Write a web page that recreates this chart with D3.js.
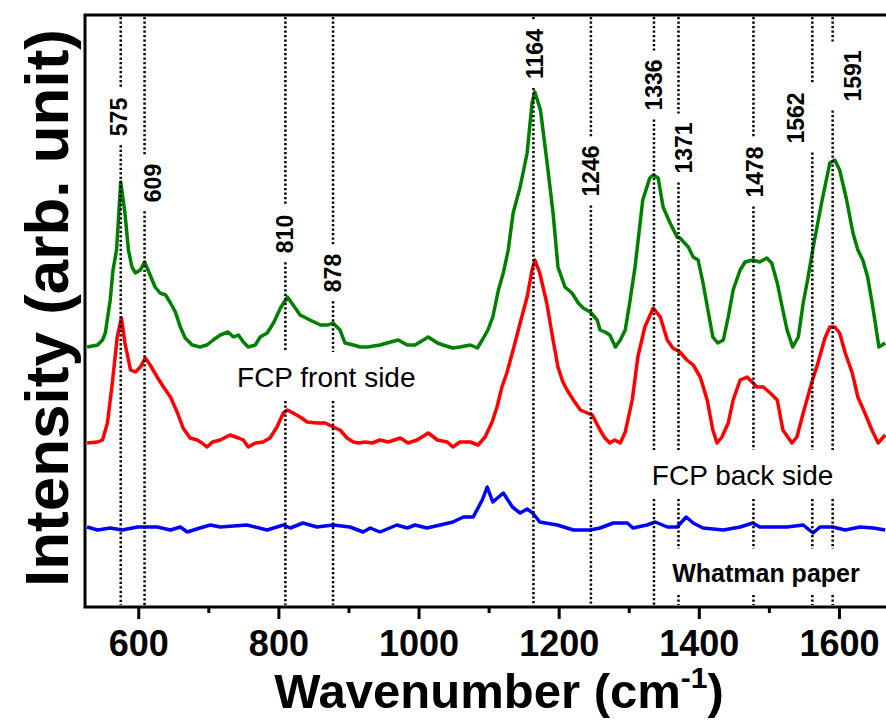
<!DOCTYPE html>
<html>
<head>
<meta charset="utf-8">
<style type="text/css">
body { margin: 0; background: #fff; }
svg { display: block; font-family: Arial, "Liberation Sans", sans-serif; }
.spectrum { fill: none; stroke-width: 3.5; stroke-linejoin: round; }
.peakline { stroke: #000; stroke-width: 2.5; stroke-dasharray: 2.2 2.3; }
.peaklabel { font-size: 23px; font-weight: bold; }
.curvelabel { font-size: 28px; }
</style>
<script src="https://d3js.org/d3.v7.min.js"></script>
</head>
<body>
<script type="text/javascript">
// spectra (wavenumber in cm-1, intensity in arbitrary units)
var greenWn = [527,542,549,553,560,564,569,575,581,586,591,596,603,609,614,624,631,639,646,653,660,667,677,688,698,707,717,728,736,743,750,757,767,774,784,793,803,813,821,831,845,860,871,878,888,895,907,917,927,945,955,971,984,995,1014,1027,1035,1049,1059,1074,1084,1091,1099,1106,1114,1121,1128,1135,1145,1155,1162,1166,1174,1183,1192,1199,1209,1219,1228,1235,1245,1255,1259,1266,1273,1281,1288,1295,1302,1309,1320,1330,1335,1342,1349,1359,1369,1373,1385,1392,1399,1406,1413,1420,1427,1435,1442,1449,1459,1466,1477,1487,1497,1504,1512,1519,1526,1534,1542,1549,1556,1563,1576,1587,1594,1601,1611,1620,1627,1634,1641,1649,1657,1666];
var greenI  = [260,262,267,274,307,337,357,425,394,357,340,334,337,345,337,320,314,312,304,295,280,269,262,260,262,267,272,275,270,272,265,260,262,270,274,284,299,310,302,292,287,282,282,284,277,264,262,260,260,262,264,267,262,262,270,264,262,259,260,262,259,267,277,290,317,334,357,394,420,454,504,515,497,447,394,340,320,314,304,299,295,287,277,275,272,260,267,277,307,340,407,429,432,429,400,384,370,369,360,350,347,324,297,270,264,267,290,317,337,345,347,345,349,344,324,300,277,260,270,304,330,359,407,444,447,437,407,374,357,347,330,297,260,264];

var redWn = [527,542,549,556,563,570,576,581,589,596,603,610,617,627,636,646,656,664,674,684,691,698,706,717,731,743,750,757,767,778,788,798,807,813,821,831,841,855,867,878,888,898,907,914,924,934,945,957,974,985,998,1014,1027,1041,1049,1059,1074,1085,1095,1105,1112,1119,1126,1135,1145,1155,1162,1166,1173,1183,1192,1199,1206,1212,1221,1231,1241,1248,1259,1266,1273,1280,1288,1295,1305,1313,1323,1335,1345,1355,1363,1373,1383,1392,1402,1412,1420,1426,1433,1442,1449,1459,1469,1476,1483,1492,1502,1512,1520,1533,1540,1549,1561,1570,1580,1587,1594,1601,1609,1619,1627,1637,1647,1656,1666];
var redI  = [164,165,167,184,224,270,289,264,237,235,240,249,242,230,220,210,194,179,169,167,164,160,165,167,172,169,167,160,164,165,169,180,194,197,194,190,185,184,184,180,177,169,165,164,165,164,167,165,169,164,167,174,167,165,160,165,165,162,170,185,200,220,234,257,284,310,337,347,334,304,267,240,225,217,207,197,194,192,177,169,164,167,164,175,207,250,280,299,290,267,259,255,247,242,230,207,177,164,170,184,207,227,230,225,220,220,214,207,177,164,170,194,224,244,269,280,280,274,254,234,210,194,177,164,172];

var blueWn = [527,542,560,577,599,627,646,660,670,688,703,717,755,784,807,817,835,855,878,902,921,931,945,969,984,995,1012,1031,1049,1064,1078,1091,1098,1106,1121,1134,1145,1155,1163,1173,1198,1221,1245,1259,1278,1298,1306,1326,1338,1355,1369,1382,1392,1406,1435,1459,1477,1487,1506,1526,1549,1563,1573,1591,1609,1630,1649,1666];
var blueI  = [80,77,79,77,80,80,77,80,75,79,82,80,82,77,82,79,84,80,82,80,75,79,75,82,79,82,79,82,85,90,90,107,120,105,114,100,94,98,94,85,82,77,77,79,84,84,79,82,85,80,80,90,84,79,77,80,84,80,80,80,82,74,80,80,77,80,79,77];

var peaks = [575, 609, 810, 878, 1164, 1246, 1336, 1371, 1478, 1562, 1591];
var peakLabelY = [490, 424, 373, 334, 553, 436, 522, 459, 435, 489, 531];
var peakLabelDx = [-2, 8, 0, 0, 2, 0, 0, 6, 2, -16, 20];

var curveNames = ["FCP front side", "FCP back side", "Whatman paper"];
var curveLabelWn = [741, 1333, 1362];
var curveLabelI = [220, 122, 25];

var xTicks = [600, 800, 1000, 1200, 1400, 1600];
var xMinorTicks = [700, 900, 1100, 1300, 1500];

var width = 886, height = 720;
var plotLeft = 85, plotTop = 15, plotBottom = 607, plotRight = 888;

var svg = d3.select("body").append("svg").attr("width", width).attr("height", height);

var x = d3.scaleLinear().domain([524, 1670]).range([plotLeft, plotRight]);
var y = d3.scaleLinear().domain([0, 592]).range([plotBottom, plotTop]);

svg.append("clipPath").attr("id", "plotclip").append("rect")
	.attr("x", plotLeft).attr("y", plotTop).attr("width", plotRight - plotLeft).attr("height", plotBottom - plotTop);

var line = d3.line().x(function(d){ return x(d[0]); }).y(function(d){ return y(d[1]); });

var series = [
	{wn: greenWn, val: greenI, color: "#008000"},
	{wn: redWn, val: redI, color: "#ff0000"},
	{wn: blueWn, val: blueI, color: "#0000ff"}
];
var plot = svg.append("g").attr("clip-path", "url(#plotclip)");
series.forEach(function(s) {
	plot.append("path").datum(d3.zip(s.wn, s.val))
		.attr("class", "spectrum")
		.attr("stroke", s.color)
		.attr("d", line);
});

// curve names
var gaps = peaks.map(function(){ return []; });
var curveText = svg.selectAll(".curvelabel").data(curveNames).enter().append("text")
	.attr("class", "curvelabel")
	.attr("x", function(d,i){ return x(curveLabelWn[i]); })
	.attr("y", function(d,i){ return y(curveLabelI[i]); })
	.style("font-weight", function(d,i){ return i == 2 ? "bold" : "normal"; })
	.style("font-size", function(d,i){ return i == 2 ? "25px" : "28px"; })
	.text(function(d){ return d; });

curveText.each(function() {
	var b = this.getBBox();
	peaks.forEach(function(p, j) {
		var px = x(p);
		if (px >= b.x - 2 && px <= b.x + b.width + 2) gaps[j].push([b.y - 10, b.y + b.height + 8]);
	});
});

// peak labels
peaks.forEach(function(p, j) {
	var cy = y(peakLabelY[j]);
	var t = svg.append("text").attr("class", "peaklabel")
		.attr("text-anchor", "middle")
		.attr("transform", "translate(" + (x(p) + peakLabelDx[j] + 8) + "," + cy + ") rotate(-90)")
		.text(p);
	var half = t.node().getComputedTextLength() / 2;
	gaps[j].push([cy - half - 9, cy + half + 9]);
});

// dotted peak lines, broken round the texts
peaks.forEach(function(p, j) {
	var g = gaps[j].sort(function(a, b){ return a[0] - b[0]; });
	var y0 = plotTop + 2, segs = [];
	g.forEach(function(gp) {
		if (gp[0] > y0) segs.push([y0, gp[0]]);
		y0 = Math.max(y0, gp[1]);
	});
	if (y0 < plotBottom - 2) segs.push([y0, plotBottom - 2]);
	segs.forEach(function(s) {
		svg.append("line").attr("class", "peakline")
			.attr("x1", x(p)).attr("x2", x(p))
			.attr("y1", s[0]).attr("y2", s[1]);
	});
});

// axes
var gx = svg.append("g").attr("transform", "translate(0," + plotBottom + ")")
	.call(d3.axisBottom(x).tickValues(xTicks).tickSize(12).tickPadding(11).tickFormat(d3.format("d")));
gx.select(".domain").remove();
gx.selectAll(".tick line").attr("stroke-width", 3);
gx.selectAll(".tick text").attr("font-size", 36).attr("font-weight", "bold")
	.attr("font-family", "Arial, 'Liberation Sans', sans-serif").attr("fill", "#000");

var gm = svg.append("g").attr("transform", "translate(0," + plotBottom + ")")
	.call(d3.axisBottom(x).tickValues(xMinorTicks).tickSize(6).tickFormat(""));
gm.select(".domain").remove();
gm.selectAll(".tick line").attr("stroke-width", 3);

svg.append("path")
	.attr("d", "M" + plotRight + "," + plotTop + "H" + plotLeft + "V" + plotBottom + "H" + plotRight)
	.attr("fill", "none").attr("stroke", "#000").attr("stroke-width", 3);

// axis titles
svg.append("text")
	.attr("transform", "translate(68," + ((plotTop + plotBottom) / 2 - 3) + ") rotate(-90)")
	.attr("text-anchor", "middle")
	.style("font-size", "62px").style("font-weight", "bold")
	.text("Intensity (arb. unit)");

var xt = svg.append("text")
	.attr("x", 499).attr("y", 708)
	.attr("text-anchor", "middle")
	.style("font-size", "49px").style("font-weight", "bold");
xt.append("tspan").text("Wavenumber (cm");
xt.append("tspan").attr("dy", -20).style("font-size", "30px").text("-1");
xt.append("tspan").attr("dy", 20).text(")");
</script>
</body>
</html>
